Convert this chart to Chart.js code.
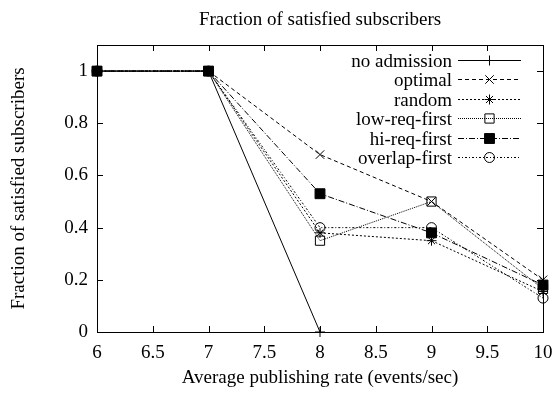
<!DOCTYPE html>
<html>
<head>
<meta charset="utf-8">
<script src="https://cdn.jsdelivr.net/npm/chart.js@4/dist/chart.umd.min.js"></script>
<style>
  html, body { margin: 0; padding: 0; background: #fff; }
  #wrap { width: 554px; height: 393px; }
</style>
</head>
<body>
<div id="wrap"><canvas id="c" width="554" height="393"></canvas></div>
<script>
// Labels
const chartTitle = 'Fraction of satisfied subscribers';
const xTitle = 'Average publishing rate (events/sec)';
const yTitle = 'Fraction of satisfied subscribers';

// Publishing rates (events/sec)
const rates = [6, 7, 8, 9, 10];

// Fraction of satisfied subscribers per admission policy
const noAdmission  = [1, 1, 0];
const optimal      = [1, 1, 0.68, 0.50, 0.20];
const randomPolicy = [1, 1, 0.38, 0.35, 0.155];
const lowReqFirst  = [1, 1, 0.35, 0.50, 0.165];
const hiReqFirst   = [1, 1, 0.53, 0.38, 0.18];
const overlapFirst = [1, 1, 0.40, 0.40, 0.13];

// Axis ticks
const xTicks = [6, 6.5, 7, 7.5, 8, 8.5, 9, 9.5, 10];
const yTicks = [0, 0.2, 0.4, 0.6, 0.8, 1];

const FONT = { family: 'Liberation Serif', size: 19 };
const INK = '#000';

function pts(values) {
  return values.map((v, i) => ({ x: rates[i], y: v }));
}

function series(label, values, dash, style, radius, fill) {
  return {
    label,
    data: pts(values),
    borderColor: INK,
    borderWidth: 1,
    borderDash: dash,
    pointStyle: style,
    pointRadius: radius,
    pointHoverRadius: radius,
    pointBorderWidth: 1,
    pointBorderColor: INK,
    pointBackgroundColor: fill,
    backgroundColor: fill,
    fill: false,
    tension: 0,
    clip: false
  };
}

const datasets = [
  series('no admission',  noAdmission,  [],             'cross',    5,   'rgba(0,0,0,0)'),
  series('optimal',       optimal,      [4, 3],         'crossRot', 6,   'rgba(0,0,0,0)'),
  series('random',        randomPolicy, [2, 2],         'star',     5,   'rgba(0,0,0,0)'),
  series('low-req-first', lowReqFirst,  [1, 1],         'rect',     6.5, 'rgba(0,0,0,0)'),
  series('hi-req-first',  hiReqFirst,   [6, 2, 1, 2],   'rect',     7,   INK),
  series('overlap-first', overlapFirst, [2, 2, 1, 2],   'circle',   5,   'rgba(0,0,0,0)')
];

// Box frame with inward tick marks on all four sides
const framePlugin = {
  id: 'frame',
  beforeDatasetsDraw(chart) {
    const { ctx, chartArea: a, scales: { x, y } } = chart;
    ctx.save();
    ctx.strokeStyle = INK;
    ctx.lineWidth = 1;
    ctx.setLineDash([]);
    ctx.strokeRect(Math.round(a.left) + 0.5, Math.round(a.top) + 0.5,
                   Math.round(a.right - a.left), Math.round(a.bottom - a.top));
    const len = 6;
    ctx.beginPath();
    xTicks.forEach(v => {
      const px = Math.round(x.getPixelForValue(v)) + 0.5;
      ctx.moveTo(px, a.bottom); ctx.lineTo(px, a.bottom - len);
      ctx.moveTo(px, a.top); ctx.lineTo(px, a.top + len);
    });
    yTicks.forEach(v => {
      const py = Math.round(y.getPixelForValue(v)) + 0.5;
      ctx.moveTo(a.left, py); ctx.lineTo(a.left + len, py);
      ctx.moveTo(a.right, py); ctx.lineTo(a.right - len, py);
    });
    ctx.stroke();
    ctx.restore();
  },
  afterDraw(chart) {
    const { ctx, chartArea: a } = chart;
    ctx.save();
    ctx.fillStyle = INK;
    ctx.font = `${FONT.size}px "${FONT.family}"`;
    // Chart title centred over the plot area
    ctx.textAlign = 'center';
    ctx.textBaseline = 'alphabetic';
    ctx.fillText(chartTitle, (a.left + a.right) / 2, 25);

    // Key: label on the left, line sample with marker on the right
    const textRight = 452, lineStart = 458, lineEnd = 521, rowTop = 60, rowStep = 19.4;
    chart.data.datasets.forEach((ds, i) => {
      const yy = Math.round(rowTop + i * rowStep) + 0.5;
      ctx.textAlign = 'right';
      ctx.fillStyle = INK;
      ctx.fillText(ds.label, textRight, yy + 6);
      ctx.beginPath();
      ctx.setLineDash(ds.borderDash);
      ctx.lineWidth = 1;
      ctx.strokeStyle = INK;
      ctx.moveTo(lineStart, yy);
      ctx.lineTo(lineEnd, yy);
      ctx.stroke();
      ctx.setLineDash([]);
      ctx.fillStyle = ds.pointBackgroundColor;
      Chart.helpers.drawPoint(ctx, {
        pointStyle: ds.pointStyle,
        radius: ds.pointRadius,
        rotation: 0,
        borderWidth: 1
      }, (lineStart + lineEnd) / 2, yy);
    });
    ctx.restore();
  }
};

new Chart(document.getElementById('c'), {
  type: 'line',
  data: { datasets },
  options: {
    responsive: false,
    animation: false,
    devicePixelRatio: 1,
    layout: { padding: { top: 45, right: 11, left: 0, bottom: 0 } },
    plugins: {
      legend: { display: false },
      title: { display: false },
      tooltip: { enabled: false }
    },
    scales: {
      x: {
        type: 'linear',
        min: 6,
        max: 10,
        afterBuildTicks: s => { s.ticks = xTicks.map(v => ({ value: v })); },
        afterFit: s => { s.height = 61; s.paddingLeft = 0; s.paddingRight = 0; },
        ticks: {
          font: FONT, color: INK, padding: 10,
          maxRotation: 0, autoSkip: false,
          callback: v => String(v)
        },
        grid: { display: false, drawTicks: false },
        border: { display: false },
        title: {
          display: true, text: xTitle, font: FONT, color: INK,
          padding: { top: 0, bottom: 4 }
        }
      },
      y: {
        type: 'linear',
        min: 0,
        max: 1.1,
        afterBuildTicks: s => { s.ticks = yTicks.map(v => ({ value: v })); },
        afterFit: s => { s.width = 97; s.paddingTop = 0; s.paddingBottom = 0; },
        ticks: {
          font: FONT, color: INK, padding: 9,
          autoSkip: false,
          callback: v => String(v)
        },
        grid: { display: false, drawTicks: false },
        border: { display: false },
        title: {
          display: true, text: yTitle, font: FONT, color: INK,
          padding: { top: 8, bottom: 0 }
        }
      }
    }
  },
  plugins: [framePlugin]
});
</script>
</body>
</html>
